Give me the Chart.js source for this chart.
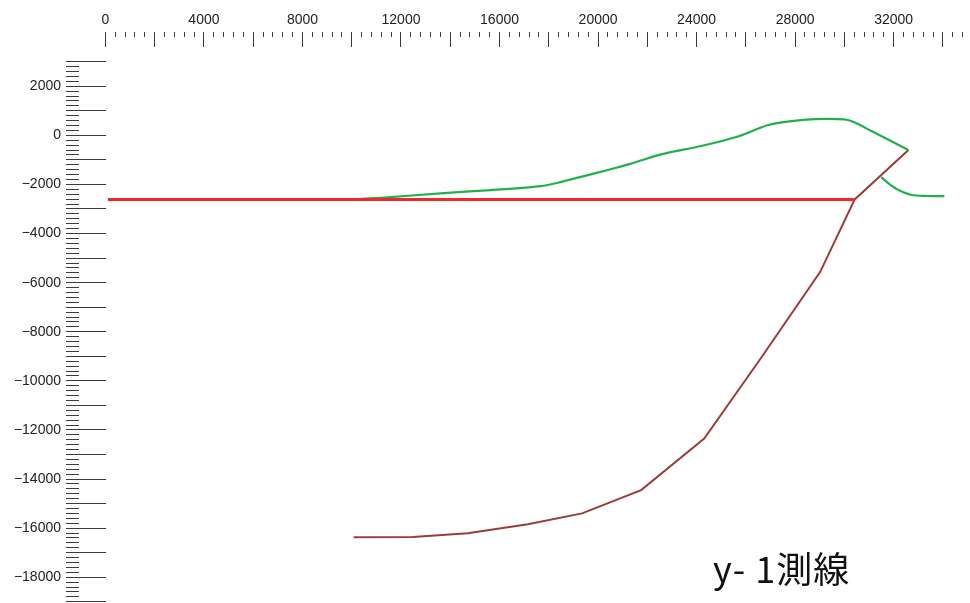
<!DOCTYPE html>
<html><head><meta charset="utf-8">
<script src="https://cdn.jsdelivr.net/npm/chart.js@4/dist/chart.umd.min.js"></script>
<style>
html,body{margin:0;padding:0;background:#fff;}
#wrap{position:relative;width:970px;height:603px;overflow:hidden;}
#title{position:absolute;left:713px;top:549px;font-family:'Noto Sans CJK JP';font-size:36px;line-height:36px;letter-spacing:1px;color:#111;white-space:pre;}
</style></head><body>
<div id="wrap"><canvas id="c" width="970" height="603"></canvas><div id="title">y- 1測線</div></div>
<script>
// tick labels
const xLabelValues = [0, 4000, 8000, 12000, 16000, 20000, 24000, 28000, 32000];
const yLabelValues = [2000, 0, -2000, -4000, -6000, -8000, -10000, -12000, -14000, -16000, -18000];
// tick mark ranges [from, to, step]
const xTickSpan = [0, 34800, 400];
const yTickSpan = [-19000, 3000, 200];

// series
const redX = [100, 30420];
const redY = [-2610, -2610];

const greenX = [10080, 11300, 13600, 15650, 17680, 18370, 19310, 20400, 21460, 22560, 24190, 25610, 26910, 27850, 28780, 30000, 30410, 31100, 32600];
const greenY = [-2607, -2540, -2360, -2230, -2065, -1930, -1690, -1410, -1115, -775, -435, -70, 420, 580, 660, 650, 530, 175, -600];

const green2X = [31500, 31830, 32200, 32720, 33330, 34060];
const green2Y = [-1700, -1985, -2230, -2430, -2470, -2472];

const brownX = [10080, 12480, 14710, 17150, 19350, 21750, 24310, 26630, 29020, 30420, 32600];
const brownY = [-16375, -16360, -16210, -15845, -15400, -14450, -12350, -9050, -5560, -2610, -600];

const pts = (xs, ys) => xs.map((x, i) => ({x, y: ys[i]}));
const xLabelSet = new Set(xLabelValues);
const yLabelSet = new Set(yLabelValues);
const fmt = v => v < 0 ? '\u2212' + Math.abs(v) : String(v);
const makeTicks = (a) => { const t = []; for (let v = a[0]; v <= a[1]; v += a[2]) t.push({value: v}); return t; };
const noPad = s => { s.paddingTop = 0; s.paddingBottom = 0; s.paddingLeft = 0; s.paddingRight = 0; };

const font = {family: 'Liberation Sans', size: 14};

new Chart(document.getElementById('c'), {
  type: 'scatter',
  data: {
    datasets: [
      {data: pts(redX, redY), showLine: true, borderColor: '#f02828', borderWidth: 3, pointRadius: 0, tension: 0},
      {data: pts(greenX, greenY), showLine: true, borderColor: '#22b04e', borderWidth: 2.2, pointRadius: 0, tension: 0.25},
      {data: pts(green2X, green2Y), showLine: true, borderColor: '#22b04e', borderWidth: 2.2, pointRadius: 0, tension: 0.3},
      {data: pts(brownX, brownY), showLine: true, borderColor: '#9a3c3a', borderWidth: 2, pointRadius: 0, tension: 0}
    ]
  },
  options: {
    responsive: false,
    animation: false,
    devicePixelRatio: 1,
    layout: {padding: 0},
    plugins: {legend: {display: false}, tooltip: {enabled: false}, title: {display: false}},
    scales: {
      x: {
        type: 'linear', position: 'top', min: -1600, max: 35100,
        afterBuildTicks: s => { s.ticks = makeTicks(xTickSpan); },
        afterFit: s => { s.height = 32; noPad(s); },
        grid: {drawTicks: false, color: '#3a3a3a', lineWidth: 1},
        border: {display: false, dash: c => c.tick ? (c.tick.value % 2000 === 0 ? [15, 4000] : [5, 4000]) : []},
        ticks: {autoSkip: false, maxRotation: 0, padding: 3, color: '#222', font,
          callback: v => xLabelSet.has(v) ? fmt(v) : ''}
      },
      y: {
        type: 'linear', position: 'left', min: -19050, max: 4210,
        afterBuildTicks: s => { s.ticks = makeTicks(yTickSpan); },
        afterFit: s => { s.width = 66; noPad(s); },
        grid: {drawTicks: false, color: '#3a3a3a', lineWidth: 1},
        border: {display: false, dash: c => c.tick ? (c.tick.value % 1000 === 0 ? [40, 4000] : [13, 4000]) : []},
        ticks: {autoSkip: false, padding: 5, color: '#222', font,
          callback: v => yLabelSet.has(v) ? fmt(v) : ''}
      }
    }
  }
});
</script>
</body></html>
